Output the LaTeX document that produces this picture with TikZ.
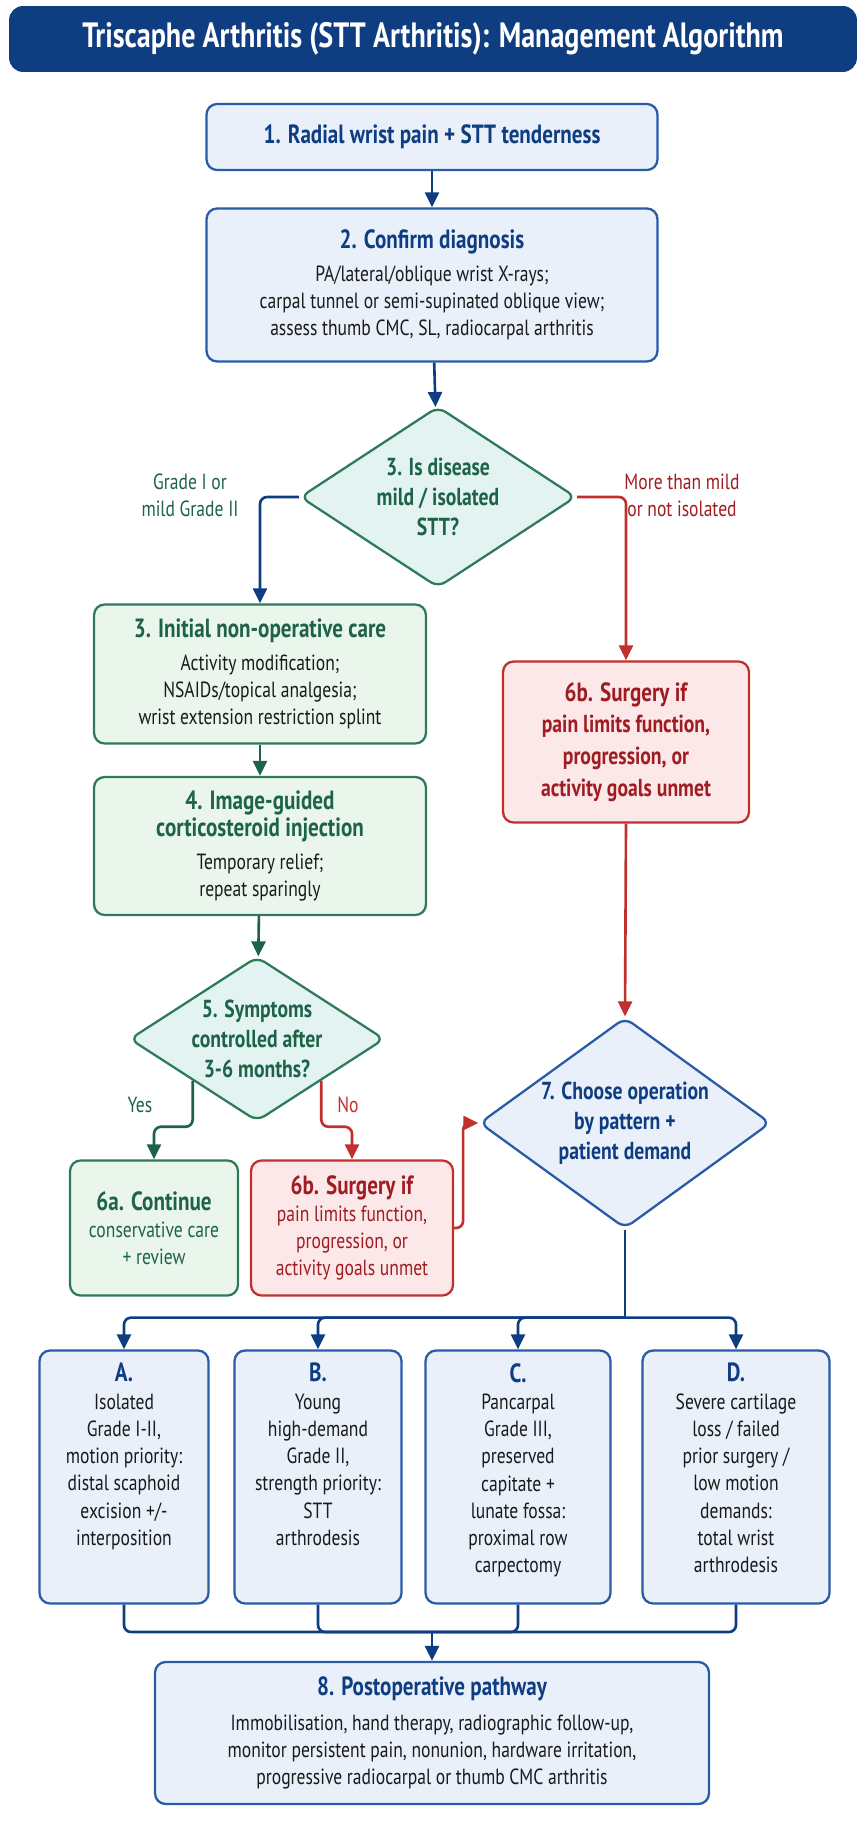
\documentclass[tikz,border=0pt]{standalone}
\usepackage{fontspec}
\setmainfont{PT Sans}[FakeStretch=0.8]
\usetikzlibrary{shapes.geometric,arrows.meta}
\definecolor{navy}{HTML}{0F3D82}
\definecolor{bluefill}{HTML}{E9F0FA}
\definecolor{blueline}{HTML}{2A5BA6}
\definecolor{greentext}{HTML}{1D6347}
\definecolor{greenfill}{HTML}{EAF5EC}
\definecolor{greenline}{HTML}{2E7A5A}
\definecolor{tealfill}{HTML}{E3F3F1}
\definecolor{redtext}{HTML}{9E1C22}
\definecolor{redfill}{HTML}{FCE8E8}
\definecolor{redline}{HTML}{C0302C}
\definecolor{bodytext}{HTML}{1A1A1A}
\tikzset{
  box/.style={draw=blueline,fill=bluefill,line width=1.3pt,rounded corners=6pt,
    align=center,inner sep=2pt,text=bodytext,font=\fontsize{12.5}{15.5}\selectfont},
  gbox/.style={box,draw=greenline,fill=greenfill},
  rbox/.style={box,draw=redline,fill=redfill,text=redtext},
  diam/.style={diamond,aspect=1.5,draw=greenline,fill=tealfill,line width=1.3pt,
    rounded corners=5pt,align=center,inner sep=0pt,text=greentext,
    font=\bfseries\fontsize{14}{17}\selectfont},
  arr/.style={line width=1.5pt,-{Triangle[length=3mm,width=2.8mm]}},
  lbl/.style={align=center,font=\fontsize{12.5}{15.5}\selectfont},
}
\newcommand{\hd}[2]{{\color{#1}\bfseries\fontsize{15}{19}\selectfont #2}}
\newcommand{\optbox}[1]{\parbox[t][4.55cm][t]{3.2cm}{\centering #1}}
\begin{document}
\begin{tikzpicture}[x=0.02cm,y=-0.02cm]
\useasboundingbox (0,0) rectangle (864,1821);
% title
\node[fill=navy,rounded corners=8pt,minimum width=16.96cm,minimum height=1.32cm,
  text=white,font=\bfseries\fontsize{20}{24}\selectfont] (title) at (433,39)
  {Triscaphe Arthritis (STT Arthritis): Management Algorithm};
% main column
\node[box,minimum width=9.02cm,minimum height=1.32cm] (start) at (432,137)
  {\hd{navy}{1. Radial wrist pain + STT tenderness}};
\node[box,minimum width=9.02cm,minimum height=3.06cm] (diag) at (432,285)
  {\hd{navy}{2. Confirm diagnosis}\\[3pt]
   PA/lateral/oblique wrist X-rays;\\
   carpal tunnel or semi-supinated oblique view;\\
   assess thumb CMC, SL, radiocarpal arthritis};
\node[diam,minimum width=5.52cm,minimum height=3.62cm] (mild) at (438,497)
  {3. Is disease\\mild / isolated\\STT?};
\node[lbl,text=greentext] (lmild) at (190,495) {Grade I or\\mild Grade II};
\node[lbl,text=redtext] (lmore) at (682,495) {More than mild\\or not isolated};
% conservative branch
\node[gbox,minimum width=6.64cm,minimum height=2.78cm] (cons) at (260,674)
  {\hd{greentext}{3. Initial non-operative care}\\[3pt]
   Activity modification;\\NSAIDs/topical analgesia;\\wrist extension restriction splint};
\node[gbox,minimum width=6.64cm,minimum height=2.76cm] (inj) at (260,846)
  {\hd{greentext}{4. Image-guided}\\\hd{greentext}{corticosteroid injection}\\[3pt]
   Temporary relief;\\repeat sparingly};
\node[diam,minimum width=5.1cm,minimum height=3.24cm] (ctrl) at (257,1039)
  {5. Symptoms\\controlled after\\3-6 months?};
\node[gbox,minimum width=3.36cm,minimum height=2.7cm,text=greentext] (keep) at (154,1228)
  {\hd{greentext}{6a. Continue}\\conservative care\\+ review};
\node[rbox,minimum width=4.04cm,minimum height=2.7cm] (surgL) at (352,1228)
  {\hd{redtext}{6b. Surgery if}\\pain limits function,\\progression, or\\activity goals unmet};
% surgical branch
\node[rbox,minimum width=4.92cm,minimum height=3.22cm,font=\bfseries\fontsize{14}{18}\selectfont] (surgR) at (626,742)
  {\hd{redtext}{6b. Surgery if}\\pain limits function,\\progression, or\\activity goals unmet};
\node[diam,draw=blueline,fill=bluefill,text=navy,minimum width=5.26cm,minimum height=4.22cm] (oper) at (625,1123)
  {7. Choose operation\\by pattern +\\patient demand};
% operations
\node[box,minimum width=3.38cm,minimum height=5.06cm] (optA) at (124,1477)
  {\optbox{\hd{navy}{A.}\\Isolated\\Grade I-II,\\motion priority:\\distal scaphoid\\excision +/-\\interposition}};
\node[box,minimum width=3.34cm,minimum height=5.06cm] (optB) at (318,1477)
  {\optbox{\hd{navy}{B.}\\Young\\high-demand\\Grade II,\\strength priority:\\STT\\arthrodesis}};
\node[box,minimum width=3.7cm,minimum height=5.06cm] (optC) at (518,1477)
  {\optbox{\hd{navy}{C.}\\Pancarpal\\Grade III,\\preserved\\capitate +\\lunate fossa:\\proximal row\\carpectomy}};
\node[box,minimum width=3.74cm,minimum height=5.06cm] (optD) at (736,1477)
  {\optbox{\hd{navy}{D.}\\Severe cartilage\\loss / failed\\prior surgery /\\low motion\\demands:\\total wrist\\arthrodesis}};
\node[box,minimum width=11.08cm,minimum height=2.84cm] (post) at (432,1733)
  {\hd{navy}{8. Postoperative pathway}\\[4pt]
   Immobilisation, hand therapy, radiographic follow-up,\\
   monitor persistent pain, nonunion, hardware irritation,\\
   progressive radiocarpal or thumb CMC arthritis};
% connectors
\draw[arr,navy] (start) -- (diag);
\draw[arr,navy] (diag) -- (mild);
\draw[arr,navy,rounded corners=4pt] (mild.west) -| (cons.north);
\draw[arr,redline,rounded corners=4pt] (mild.east) -| (surgR.north);
\draw[arr,greentext] (cons) -- (inj);
\draw[arr,greentext] (inj) -- (ctrl);
\draw[arr,greentext,rounded corners=4pt] (ctrl.south west) -- ++(0,46) -| (keep.north);
\draw[arr,redline,rounded corners=4pt] (ctrl.south east) -- ++(0,46) -| (surgL.north);
\node[lbl,text=greentext] (yes) at (140,1105) {Yes};
\node[lbl,text=redline] (no) at (348,1105) {No};
\draw[arr,redline,rounded corners=4pt] (surgL.east) -- ++(9,0) |- (oper.west);
\draw[arr,redline] (surgR.south) -- (oper.north);
\draw[line width=1.5pt,navy] (oper.south) -- ++(0,88) coordinate (split);
\foreach \o in {optA,optB,optC,optD}
  \draw[arr,navy,rounded corners=4pt] (split) -| (\o.north);
\coordinate (merge) at (432,1632);
\foreach \o in {optA,optB,optC,optD}
  \draw[line width=1.5pt,navy,rounded corners=4pt] (\o.south) |- (merge);
\draw[arr,navy] (merge) -- (post.north);
\end{tikzpicture}
\end{document}
